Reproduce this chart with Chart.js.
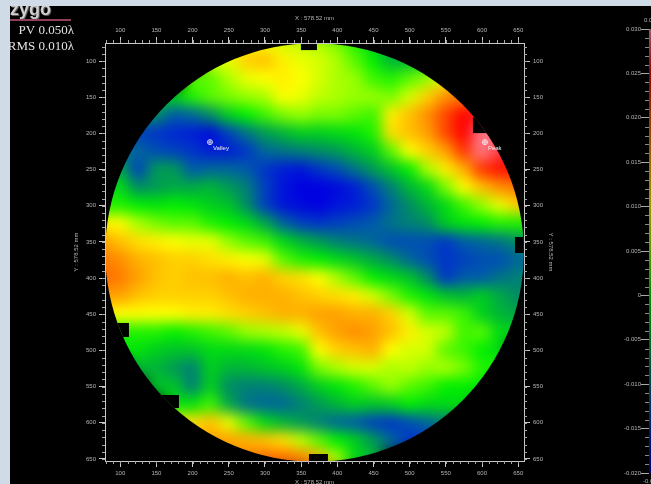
<!DOCTYPE html>
<html>
<head>
<meta charset="utf-8">
<title>Surface map</title>
<script src="https://cdn.jsdelivr.net/npm/chart.js@4"></script>
<style>
  html, body { margin: 0; height: 100%; overflow: hidden; background: #cfdbe6; }
  #page { position: relative; width: 651px; height: 484px; overflow: hidden; }
  #black { position: absolute; left: 10px; top: 6px; width: 641px; height: 478px; background: #000; }
  #map { position: absolute; left: 10px; top: 6px; }
  #bar { position: absolute; left: 600px; top: 6px; }
</style>
</head>
<body>
<div id="page">
  <div id="black"></div>
  <canvas id="map" width="590" height="480"></canvas>
  <canvas id="bar" width="70" height="478"></canvas>
</div>
<script>
// Cell centres in mm
const xCentres = [75, 100, 125, 150, 175, 200, 225, 250, 275, 300, 325, 350, 375, 400, 425, 450, 475, 500, 525, 550, 575, 600, 625, 650, 675];
const yCentres = [75, 100, 125, 150, 175, 200, 225, 250, 275, 300, 325, 350, 375, 400, 425, 450, 475, 500, 525, 550, 575, 600, 625, 650, 675];

const n = null;
const heightRows = [
  [n, n, n, n, n, n, n, 9, 11, 10, 8, 7, 6, 4, 1, -3, -7, -8, -5, n, n, n, n, n, n],
  [n, n, n, n, n, n, 8, 9, 13, 14, 11, 9, 8, 6, 3, 0, -5, -5, -3, n, n, n, n, n, n],
  [n, n, n, n, n, 3, 3, 6, 9, 10, 11, 10, 8, 6, 5, 2, 1, 3, 5, 10, n, n, n, n, n],
  [n, n, n, -3, -3, 1, 3, 4, 5, 6, 10, 9, 7, 6, 5, 5, 4, 8, 13, 17, 18, 18, n, n, n],
  [n, n, -8, -8, -12, -11, -8, -3, 0, 2, 4, 5, 4, 4, 3, 2, 11, 14, 17, 21, 25, 26, 26, n, n],
  [n, -13, -14, -15, -16, -17, -19, -14, -10, -7, -5, -3, -3, -2, -1, 1, 12, 14, 16, 21, 25, 29, 29, n, n],
  [-11, -11, -11, -13, -14, -15, -17, -17, -15, -11, -10, -9, -8, -7, -5, -3, 3, 10, 13, 16, 22, 29, 27, 25, n],
  [-6, -6, -14, -7, -7, -12, -11, -11, -12, -15, -17, -18, -15, -13, -10, -7, -4, 0, 6, 11, 15, 22, 24, 24, n],
  [-2, -2, -8, -7, -6, -6, -5, -7, -9, -14, -18, -20, -20, -19, -17, -13, -9, -5, -2, 4, 10, 14, 17, 18, n],
  [1, 1, 0, -1, 0, -1, -3, -4, -8, -14, -18, -19, -20, -18, -17, -15, -11, -8, -5, -2, 2, 5, 9, 13, 13],
  [11, 10, 6, 4, 3, 3, 1, 0, -2, -6, -11, -14, -15, -14, -13, -12, -10, -9, -8, -3, -1, 0, 1, 1, 1],
  [16, 14, 12, 11, 10, 9, 9, 5, 3, 2, -2, -5, -7, -9, -10, -11, -13, -13, -13, -15, -12, -11, -10, -8, -8],
  [18, 17, 15, 14, 13, 13, 12, 11, 10, 9, 3, 1, 0, -2, -4, -6, -8, -11, -13, -15, -14, -13, -13, -11, -11],
  [19, 18, 16, 14, 13, 14, 14, 15, 14, 15, 13, 12, 10, 6, 3, 0, -2, -4, -8, -15, -12, -12, -10, -9, -9],
  [16, 16, 14, 13, 13, 13, 13, 14, 15, 15, 15, 14, 13, 12, 11, 8, 4, 1, -1, -4, -5, -3, -6, -8, -8],
  [11, 10, 10, 10, 10, 11, 11, 12, 13, 14, 15, 15, 16, 16, 15, 15, 13, 8, 3, 3, 2, -3, -5, -6, n],
  [1, 1, 1, 1, 0, 1, 2, 3, 5, 6, 7, 9, 14, 16, 17, 16, 14, 11, 8, 7, 2, 3, -2, -3, n],
  [n, -1, -1, -3, -4, -4, -2, -2, -2, -1, 1, 2, 10, 13, 14, 15, 10, 8, 8, 3, 2, 0, -2, n, n],
  [n, n, -5, -5, -7, -9, -3, -5, -5, -4, -3, -1, 4, 6, 8, 8, 6, 7, 5, 6, 4, 1, 1, n, n],
  [n, n, n, -4, -4, -9, -3, -8, -9, -9, -8, -6, -3, -1, 1, 3, 5, 3, 2, 0, 0, 0, n, n, n],
  [n, n, n, n, -1, -1, 2, -6, -10, -11, -11, -9, -7, -5, -3, -4, -3, 0, -2, -2, -2, n, n, n, n],
  [n, n, n, n, 11, 12, 14, 9, 3, -2, -5, -7, -9, -11, -12, -14, -15, -13, -11, -9, n, n, n, n, n],
  [n, n, n, n, n, 15, 16, 16, 15, 14, 12, 7, 3, 0, -3, -7, -11, -15, -15, n, n, n, n, n, n],
  [n, n, n, n, n, n, n, 16, 18, 19, 19, 18, 15, 6, -2, -5, n, n, n, n, n, n, n, n, n],
  [n, n, n, n, n, n, n, n, 18, 19, 20, 19, 16, 7, -1, n, n, n, n, n, n, n, n, n, n]
];

// Colour table, value in thousandths of a wave
const colourValues = [-20, -16, -12, -8, -4, 0, 5, 10, 16, 25, 30];
const colourReds = [0, 0, 0, 0, 0, 0, 150, 255, 255, 255, 255];
const colourGreens = [0, 40, 90, 140, 195, 240, 255, 255, 160, 0, 150];
const colourBlues = [225, 210, 170, 100, 40, 0, 0, 0, 0, 0, 170];

// Axis ranges and aperture, mm
const xRange = [78.9, 658];
const yRange = [75, 652.8];
const apertureCentre = [368.5, 364.5];
const apertureRadius = 289.26;
const fiducialsX = [[349.7, 371.8], [587.4, 606.8], [645.5, 660], [76, 112], [154.9, 181.1], [360.8, 387]];
const fiducialsY = [[73.7, 84.8], [177.4, 199.5], [343.2, 365.3], [462, 481.4], [561.6, 579.5], [643.1, 655]];

const markerNames = ["Peak", "Valley"];
const markerX = [604, 224];
const markerY = [212, 212];

// Colour bar
const barRange = [-0.02, 0.03];

const tickColour = "#b5b5b5";
const tickFont = { family: "'Liberation Sans', sans-serif", size: 6 };

function colourFor(v, alpha) {
  let i = 0;
  while (i < colourValues.length - 2 && v > colourValues[i + 1]) i++;
  let t = (v - colourValues[i]) / (colourValues[i + 1] - colourValues[i]);
  t = Math.max(0, Math.min(1, t));
  const mix = (a) => Math.round(a[i] + (a[i + 1] - a[i]) * t);
  return `rgba(${mix(colourReds)},${mix(colourGreens)},${mix(colourBlues)},${alpha})`;
}

const cells = [];
heightRows.forEach((row, r) => {
  row.forEach((v, c) => {
    if (v !== null) cells.push({ x: xCentres[c], y: yCentres[r], v: v });
  });
});

function axis(position, range, reverse, title, size) {
  return {
    type: "linear",
    position: position,
    min: range[0],
    max: range[1],
    reverse: reverse,
    title: { display: true, text: title, color: tickColour, font: tickFont, padding: 0 },
    border: { display: true, color: "#c8c8c8", z: 1 },
    grid: { drawOnChartArea: false, drawTicks: true, tickLength: 6, tickColor: "#c8c8c8", z: 1 },
    ticks: {
      stepSize: 50,
      includeBounds: false,
      autoSkip: false,
      maxRotation: 0,
      padding: 3,
      color: tickColour,
      font: tickFont,
      z: 1
    },
    afterFit: (scale) => {
      if (position === "left" || position === "right") scale.width = size;
      else scale.height = size;
    }
  };
}

// Smooth the cells, cut them to the aperture, then put the markers on top
const aperturePlugin = {
  id: "aperture",
  afterDatasetsDraw(chart) {
    const ctx = chart.ctx;
    const xs = chart.scales.x;
    const ys = chart.scales.y;
    const copy = document.createElement("canvas");
    copy.width = chart.canvas.width;
    copy.height = chart.canvas.height;
    copy.getContext("2d").drawImage(chart.canvas, 0, 0);

    ctx.save();
    ctx.clearRect(0, 0, chart.width, chart.height);
    ctx.beginPath();
    ctx.arc(
      xs.getPixelForValue(apertureCentre[0]),
      ys.getPixelForValue(apertureCentre[1]),
      xs.getPixelForValue(apertureCentre[0] + apertureRadius) - xs.getPixelForValue(apertureCentre[0]),
      0, Math.PI * 2
    );
    ctx.clip();
    ctx.filter = "blur(7px)";
    ctx.drawImage(copy, 0, 0);
    ctx.filter = "none";
    ctx.fillStyle = "#000";
    fiducialsX.forEach((fx, i) => {
      const left = xs.getPixelForValue(fx[0]);
      const top = ys.getPixelForValue(fiducialsY[i][0]);
      ctx.fillRect(left, top, xs.getPixelForValue(fx[1]) - left, ys.getPixelForValue(fiducialsY[i][1]) - top);
    });
    ctx.restore();

    ctx.save();
    ctx.strokeStyle = "#f4f4f4";
    ctx.fillStyle = "#f0f0f0";
    ctx.lineWidth = 0.8;
    ctx.font = "6px 'Liberation Sans', sans-serif";
    ctx.textBaseline = "middle";
    markerNames.forEach((name, i) => {
      const px = xs.getPixelForValue(markerX[i]);
      const py = ys.getPixelForValue(markerY[i]);
      ctx.beginPath();
      ctx.arc(px, py, 2.5, 0, Math.PI * 2);
      ctx.moveTo(px - 2.5, py);
      ctx.lineTo(px + 2.5, py);
      ctx.moveTo(px, py - 2.5);
      ctx.lineTo(px, py + 2.5);
      ctx.stroke();
      ctx.fillText(name, px + 3, py + 6);
    });
    ctx.restore();
  },
  afterDraw(chart) {
    const ctx = chart.ctx;
    ctx.save();
    // Minor ticks every 10 mm on the four sides
    ctx.strokeStyle = "#a8a8a8";
    ctx.lineWidth = 1;
    ctx.beginPath();
    const area = chart.chartArea;
    for (let v = 80; v <= xRange[1]; v += 10) {
      const px = Math.round(chart.scales.x.getPixelForValue(v)) + 0.5;
      ctx.moveTo(px, area.bottom);
      ctx.lineTo(px, area.bottom + 3);
      ctx.moveTo(px, area.top);
      ctx.lineTo(px, area.top - 3);
    }
    for (let v = 80; v <= yRange[1]; v += 10) {
      const py = Math.round(chart.scales.y.getPixelForValue(v)) + 0.5;
      ctx.moveTo(area.left, py);
      ctx.lineTo(area.left - 3, py);
      ctx.moveTo(area.right, py);
      ctx.lineTo(area.right + 3, py);
    }
    ctx.stroke();

    // Logo and the two readouts
    ctx.fillStyle = "#5a5a5a";
    ctx.font = "bold 18px 'Liberation Sans', sans-serif";
    ctx.fillText("zygo", 1, 10);
    ctx.fillStyle = "#cfcfcf";
    ctx.fillText("zygo", 0, 9);
    ctx.fillStyle = "#8e3f5a";
    ctx.fillRect(0, 13, 61, 2);
    ctx.fillStyle = "#e2e2e2";
    ctx.font = "13px 'Liberation Serif', serif";
    ctx.textAlign = "right";
    ctx.textBaseline = "middle";
    ctx.fillText("PV 0.050\u03bb", 64, 25);
    ctx.fillText("RMS 0.010\u03bb", 64, 41);
    ctx.restore();
  }
};

new Chart(document.getElementById("map"), {
  type: "scatter",
  data: {
    datasets: [
      {
        data: cells,
        clip: false,
        pointStyle: "rect",
        pointRadius: 13.6,
        pointHoverRadius: 13.6,
        pointBorderWidth: 0,
        backgroundColor: (c) => (c.raw ? colourFor(c.raw.v, 1) : "#000")
      }
    ]
  },
  options: {
    responsive: false,
    animation: false,
    events: [],
    layout: { padding: { left: 63, right: 46, top: 9, bottom: 0 } },
    plugins: { legend: { display: false }, tooltip: { enabled: false } },
    scales: {
      x: axis("bottom", xRange, false, "X : 578.52 mm", 25),
      xTop: axis("top", xRange, false, "X : 578.52 mm", 28),
      y: axis("left", yRange, true, "Y : 578.52 mm", 32),
      yRight: axis("right", yRange, true, "Y : 578.52 mm", 30)
    }
  },
  plugins: [aperturePlugin]
});

// Colour bar, only its left edge fits in the window
const barPlugin = {
  id: "barTicks",
  afterDraw(chart) {
    const ctx = chart.ctx;
    const ys = chart.scales.y;
    const left = chart.chartArea.left;
    ctx.save();
    ctx.strokeStyle = "#8c8c8c";
    ctx.beginPath();
    for (let m = -20; m <= 30; m++) {
      if (m % 5 === 0) continue;
      const py = Math.round(ys.getPixelForValue(m / 1000)) + 0.5;
      ctx.moveTo(left - 4, py);
      ctx.lineTo(left, py);
    }
    ctx.stroke();
    ctx.fillStyle = tickColour;
    ctx.font = "6px 'Liberation Sans', sans-serif";
    ctx.textAlign = "left";
    ctx.textBaseline = "middle";
    ctx.fillText(barRange[1].toFixed(3), 44, 14);
    ctx.fillText(barRange[0].toFixed(3), 43, 475);
    ctx.restore();
  }
};

new Chart(document.getElementById("bar"), {
  type: "bar",
  data: {
    labels: ["scale"],
    datasets: [
      {
        data: [barRange],
        barPercentage: 1,
        categoryPercentage: 1,
        backgroundColor: (c) => {
          const area = c.chart.chartArea;
          if (!area) return "#000";
          const g = c.chart.ctx.createLinearGradient(0, area.bottom, 0, area.top);
          colourValues.forEach((v) => {
            g.addColorStop((v / 1000 - barRange[0]) / (barRange[1] - barRange[0]), colourFor(v, 0.6));
          });
          return g;
        }
      }
    ]
  },
  options: {
    responsive: false,
    animation: false,
    events: [],
    layout: { padding: { top: 23, bottom: 11 } },
    plugins: { legend: { display: false }, tooltip: { enabled: false } },
    scales: {
      x: { display: false },
      y: {
        position: "left",
        min: barRange[0],
        max: barRange[1],
        border: { display: false },
        grid: { drawOnChartArea: false, tickLength: 8, tickColor: "#a8a8a8" },
        ticks: {
          stepSize: 0.005,
          padding: 0,
          color: tickColour,
          font: tickFont,
          callback: (v) => (Math.abs(v) < 1e-9 ? "0" : Number(v).toFixed(3))
        },
        afterFit: (scale) => {
          scale.width = 49;
        }
      }
    }
  },
  plugins: [barPlugin]
});
</script>
</body>
</html>
